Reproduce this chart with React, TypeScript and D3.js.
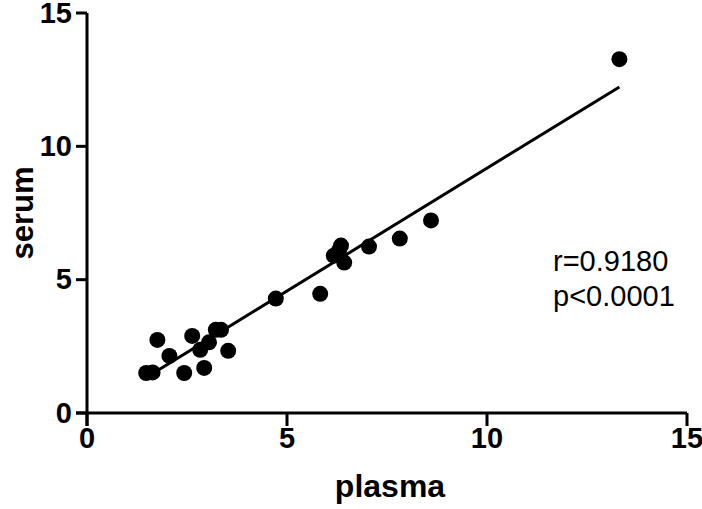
import React from "react";
import * as d3 from "d3";

const plasma = [1.48, 1.64, 1.76, 2.06, 2.43, 2.63, 2.93, 2.83, 3.05, 3.22, 3.35, 3.53, 4.72, 5.83, 6.17, 6.3, 6.35, 6.43, 7.05, 7.82, 8.6, 13.31];
const serum = [1.5, 1.52, 2.74, 2.14, 1.5, 2.89, 1.69, 2.37, 2.65, 3.12, 3.12, 2.33, 4.29, 4.47, 5.9, 6.1, 6.28, 5.64, 6.24, 6.54, 7.22, 13.27];
const xTicks = [0, 5, 10, 15];
const yTicks = [0, 5, 10, 15];
const fitSlope = 0.921;
const fitIntercept = -0.03;
const statLines = ["r=0.9180", "p<0.0001"];

export default function App() {
  const W = 702, H = 509;
  const left = 87, right = 687, top = 13, bottom = 413;
  const x = d3.scaleLinear().domain([0, 15]).range([left, right]);
  const y = d3.scaleLinear().domain([0, 15]).range([bottom, top]);
  const font = "'Liberation Sans', Arial, sans-serif";
  const xMin = d3.min(plasma)!;
  const xMax = d3.max(plasma)!;
  const fit = d3.line<number>().x(d => x(d)).y(d => y(fitIntercept + fitSlope * d));
  return (
    <svg width={W} height={H} style={{ position: "absolute", left: 0, top: 0, background: "#fff" }}>
      <line x1={left} x2={left} y1={top} y2={bottom + 13} stroke="#000" strokeWidth={3} />
      <line x1={left - 11} x2={right} y1={bottom} y2={bottom} stroke="#000" strokeWidth={3} />
      {yTicks.map(t => (
        <g key={"y" + t}>
          <line x1={left - 11} x2={left} y1={y(t)} y2={y(t)} stroke="#000" strokeWidth={3} />
          <text x={72} y={y(t)} dy="0.33em" textAnchor="end" fontFamily={font} fontWeight="bold" fontSize={29}>{t}</text>
        </g>
      ))}
      {xTicks.map(t => (
        <g key={"x" + t}>
          <line x1={x(t)} x2={x(t)} y1={bottom} y2={bottom + 13} stroke="#000" strokeWidth={3} />
          <text x={x(t)} y={448} textAnchor="middle" fontFamily={font} fontWeight="bold" fontSize={29}>{t}</text>
        </g>
      ))}
      <text x={(left + right) / 2 + 3} y={497} textAnchor="middle" fontFamily={font} fontWeight="bold" fontSize={32}>plasma</text>
      <text transform={`translate(33,${(top + bottom) / 2}) rotate(-90)`} textAnchor="middle" fontFamily={font} fontWeight="bold" fontSize={31}>serum</text>
      <path d={fit([xMin, xMax]) || ""} stroke="#000" strokeWidth={3} fill="none" />
      {plasma.map((p, i) => (
        <circle key={i} cx={x(p)} cy={y(serum[i])} r={8} fill="#000" />
      ))}
      {statLines.map((s, i) => (
        <text key={s} x={553} y={271 + i * 35} fontFamily={font} fontSize={29}>{s}</text>
      ))}
    </svg>
  );
}
